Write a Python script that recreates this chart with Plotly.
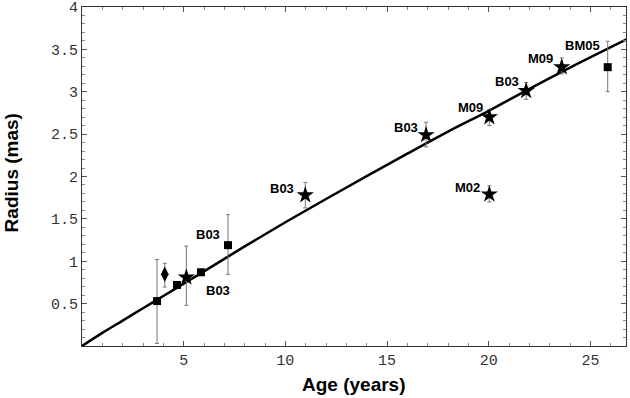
import plotly.graph_objects as go

# Model curve
curve_x = [0, 1, 2, 3, 4, 5, 6, 8, 10, 12, 14, 16, 18, 20, 22, 24, 26.8]
curve_y = [0, 0.155, 0.30, 0.445, 0.59, 0.735, 0.88, 1.175, 1.46, 1.735, 2.005, 2.27,
           2.53, 2.775, 3.035, 3.285, 3.62]

# Squares
sq_x = [3.69, 4.67, 5.85, 7.18, 25.85]
sq_y = [0.53, 0.72, 0.87, 1.19, 3.29]
sq_up = [0.49, 0.0, 0.0, 0.36, 0.305]
sq_dn = [0.50, 0.0, 0.0, 0.344, 0.29]

# Diamond
dm_x = [4.07]
dm_y = [0.846]
dm_up = [0.13]
dm_dn = [0.15]

# Stars
st_x = [5.13, 10.98, 16.92, 20.03, 20.03, 21.84, 23.59]
st_y = [0.81, 1.78, 2.49, 2.70, 1.79, 3.01, 3.29]
st_up = [0.37, 0.15, 0.15, 0.09, 0.10, 0.10, 0.11]
st_dn = [0.33, 0.15, 0.14, 0.10, 0.09, 0.10, 0.08]

# Labels: text, anchor point
lab_text = ["B03", "B03", "B03", "B03", "M09", "M02", "B03", "M09", "BM05"]
lab_x = [7.18, 5.85, 10.98, 16.92, 20.03, 20.03, 21.84, 23.59, 25.85]
lab_y = [1.19, 0.87, 1.78, 2.49, 2.70, 1.79, 3.01, 3.29, 3.29]
lab_dx = [-20, 17, -23, -20, -19, -22, -19, -21, -25]
lab_dy = [11, -18, 7, 7, 10, 7, 9, 9, 22]

x_ticks = [5, 10, 15, 20, 25]
y_ticks = [0.5, 1, 1.5, 2, 2.5, 3, 3.5, 4]
y_ticktext = ["0.5", "1", "1.5", "2", "2.5", "3", "3.5", "4"]

err_style = dict(type="data", symmetric=False, color="#777777", thickness=1, width=2)

fig = go.Figure()
fig.add_trace(go.Scatter(x=curve_x, y=curve_y, mode="lines",
                         line=dict(color="black", width=2.5, shape="spline"),
                         hoverinfo="skip", showlegend=False))
fig.add_trace(go.Scatter(x=sq_x, y=sq_y, mode="markers",
                         marker=dict(symbol="square", size=8, color="black"),
                         error_y=dict(array=sq_up, arrayminus=sq_dn, **err_style),
                         showlegend=False))
fig.add_trace(go.Scatter(x=dm_x, y=dm_y, mode="markers",
                         marker=dict(symbol="diamond-tall", size=11, color="black"),
                         error_y=dict(array=dm_up, arrayminus=dm_dn, **err_style),
                         showlegend=False))
fig.add_trace(go.Scatter(x=st_x, y=st_y, mode="markers",
                         marker=dict(symbol="star", size=13, color="black"),
                         error_y=dict(array=st_up, arrayminus=st_dn, **err_style),
                         showlegend=False))

for t, x, y, dx, dy in zip(lab_text, lab_x, lab_y, lab_dx, lab_dy):
    fig.add_annotation(x=x, y=y, text=f"<b>{t}</b>", showarrow=False,
                       xshift=dx, yshift=dy,
                       font=dict(family="Liberation Sans, Arial", size=13, color="black"))

axis_common = dict(showgrid=False, zeroline=False, showline=True, linecolor="#333333",
                   linewidth=1.2, mirror="ticks", ticks="inside", ticklen=5,
                   tickcolor="#555555", tickwidth=1, automargin=False,
                   tickfont=dict(family="Liberation Mono, DejaVu Sans Mono", size=15, color="#333333"))

fig.update_xaxes(range=[0, 26.75], tickvals=x_ticks,
                 minor=dict(dtick=1, ticks="inside", ticklen=3, tickcolor="#888888"),
                 **axis_common)
fig.update_yaxes(range=[0, 4], tickvals=y_ticks, ticktext=y_ticktext,
                 minor=dict(dtick=0.1, ticks="inside", ticklen=3, tickcolor="#888888"),
                 **axis_common)

title_font = dict(family="Liberation Sans, Arial", size=19, color="black")
fig.add_annotation(text="<b>Age (years)</b>", xref="paper", yref="paper",
                   x=0.5, y=-0.115, xanchor="center", yanchor="middle",
                   showarrow=False, font=title_font)
fig.add_annotation(text="<b>Radius (mas)</b>", xref="paper", yref="paper",
                   x=-0.13, y=0.51, xanchor="center", yanchor="middle", textangle=-90,
                   showarrow=False, font=title_font)

fig.update_layout(width=630, height=398, margin=dict(l=82, r=4, t=7, b=52),
                  plot_bgcolor="white", paper_bgcolor="white")

fig.write_html("out.html", config={"displayModeBar": False},
               post_script="document.body.style.margin='0';")
